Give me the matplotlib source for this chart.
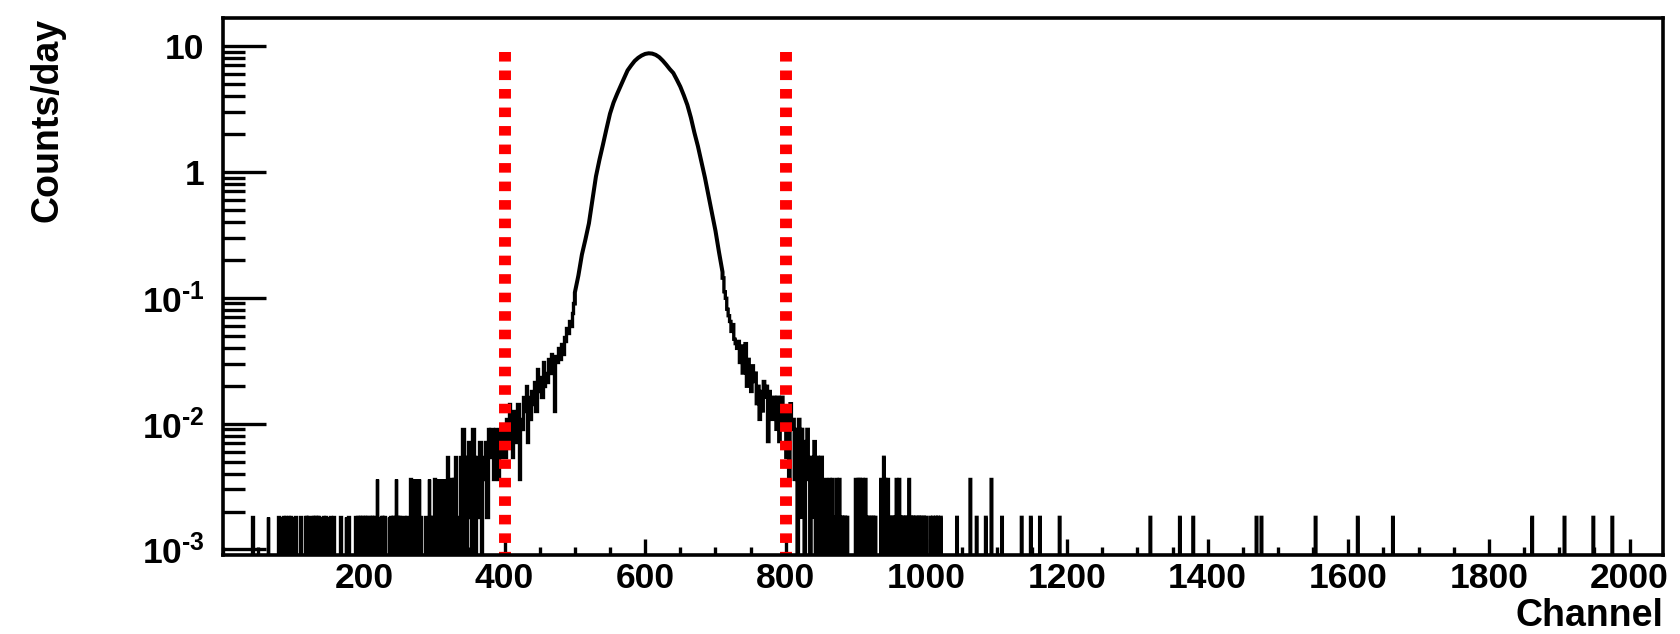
import numpy as np
import matplotlib
matplotlib.use("Agg")
import matplotlib.pyplot as plt
from matplotlib.ticker import FixedLocator, FixedFormatter, MultipleLocator, LogLocator, NullFormatter

# ---------------- data ----------------
n_channels = 2048
count_unit = 0.0018          # counts/day of one recorded count

# sparse low-energy tail: channel -> number of counts
left_tail_ch = [41, 63,
                78, 80, 83, 85, 88, 90, 92, 95, 97, 100, 102,
                109,
                116, 118, 121, 123, 126, 128, 131, 133, 135,
                140, 142, 145, 147, 150, 152,
                156, 166, 174, 178,
                188, 190, 193, 195, 197, 200, 202, 205, 207, 210, 212, 215,
                218,
                221, 224, 226, 229,
                235, 237, 240, 242, 245, 247, 250, 252, 255, 257, 260, 262,
                266, 268, 270, 272, 275, 278, 280,
                287, 289, 292, 294, 297, 300, 302, 305, 307, 309, 312, 315,
                318, 320, 322, 325, 327, 330]
left_tail_n = [1, 1,
               1, 1, 1, 1, 1, 1, 1, 1, 1, 1, 1,
               1,
               1, 1, 1, 1, 1, 1, 1, 1, 1,
               1, 1, 1, 1, 1, 1,
               1, 1, 1, 1,
               1, 1, 1, 1, 1, 1, 1, 1, 1, 1, 1, 1,
               2,
               1, 1, 1, 1,
               1, 1, 1, 1, 2, 1, 1, 1, 1, 1, 1, 1,
               2, 2, 1, 2, 2, 2, 1,
               1, 1, 2, 1, 1, 2, 2, 2, 1, 2, 2, 2,
               3, 2, 2, 2, 2, 3]

# left shoulder, 2-channel bins starting at channel 332 (counts per bin)
left_shoulder_from = 332
left_shoulder_n = [1, 0, 3, 0,
                   5, 3, 0, 3, 4, 1, 0, 5, 3, 0,
                   3, 1, 4, 0, 3, 2, 4, 1, 5, 3,
                   5, 5, 2, 5, 4, 2, 5, 3, 5, 4,
                   3, 6, 4, 8, 5, 3, 7, 4, 6, 8,
                   2, 6, 5, 9, 7, 11, 4, 9, 6, 10,
                   8, 12, 7, 15, 10, 13, 9, 17, 11, 14,
                   12, 18, 14, 20, 16, 7, 19, 17, 22, 18,
                   24, 20, 27, 25, 32, 29, 36, 33, 42, 50]

# main peak (counts/day)
peak_ch = [500, 505, 510, 515, 520, 525, 530, 535, 540, 545, 550, 555, 560,
           565, 570, 575, 580, 585, 590, 595, 600, 605, 610, 615, 620, 625,
           630, 635, 640, 645, 650, 655, 660, 665, 670, 675, 680, 685, 690,
           695, 700, 705, 710]
peak_rate = [0.11, 0.15, 0.22, 0.29, 0.39, 0.60, 0.92, 1.25, 1.65, 2.2, 2.9,
             3.55, 4.15, 4.8, 5.55, 6.4, 7.0, 7.6, 8.05, 8.4, 8.65, 8.75, 8.7,
             8.5, 8.15, 7.65, 7.1, 6.55, 6.1, 5.4, 4.75, 4.05, 3.4, 2.7, 2.05,
             1.6, 1.2, 0.9, 0.65, 0.47, 0.34, 0.23, 0.16]

# right shoulder, 2-channel bins starting at channel 710 (counts per bin)
right_shoulder_from = 710
right_shoulder_n = [80, 62, 55, 45, 40,
                    36, 30, 34, 26, 24,
                    22, 25, 17, 23, 14,
                    19, 24, 11, 18, 15,
                    10, 16, 12, 14, 8,
                    11, 6, 10, 7, 12,
                    9, 11, 4, 10, 7,
                    6, 9, 8, 5, 9,
                    4, 8, 9, 5, 7,
                    3, 7, 2, 8, 5,
                    6, 2, 5, 0, 6,
                    1, 5, 3, 0, 4,
                    5, 2, 0, 3, 1,
                    4, 0, 3, 1, 0,
                    3, 1, 0, 2, 0]

# sparse high-energy tail: channel -> number of counts
right_tail_from = 860
right_tail_ch = [862, 864, 866, 868, 870, 872, 874, 876, 879, 881, 884, 887,
                 899, 901, 903, 905, 907, 909, 911, 913, 915, 918, 921, 924, 927,
                 935, 937, 939, 941, 943, 945, 948, 950, 953, 955,
                 957, 959, 961, 963, 966, 968, 971, 973, 975, 977,
                 980, 982, 985, 988, 990, 993, 996, 999,
                 1005, 1009, 1013, 1016, 1020,
                 1043, 1062, 1071, 1084, 1092, 1107, 1135, 1148, 1161, 1189,
                 1318, 1360, 1379, 1469, 1476, 1553, 1613, 1663, 1861, 1907, 1948, 1975]
right_tail_n = [2, 1, 2, 1, 1, 2, 1, 2, 1, 1, 1, 1,
                2, 1, 2, 2, 1, 2, 1, 2, 1, 1, 1, 1, 1,
                2, 1, 3, 2, 1, 2, 1, 1, 1, 1,
                2, 1, 2, 1, 1, 1, 1, 1, 2, 1,
                1, 1, 1, 1, 1, 1, 1, 1,
                1, 1, 1, 1, 1,
                1, 2, 1, 1, 2, 1, 1, 1, 1, 1,
                1, 1, 1, 1, 1, 1, 1, 1, 1, 1, 1, 1]

window_ch = [400, 800]       # red dashed window limits
window_top = 9.0

x_major = [200, 400, 600, 800, 1000, 1200, 1400, 1600, 1800, 2000]
x_labels = ['200', '400', '600', '800', '1000', '1200', '1400', '1600', '1800', '2000']
y_major = [1e-3, 1e-2, 1e-1, 1, 10]
y_labels = [r'$10^{\text{-3}}$', r'$10^{\text{-2}}$', r'$10^{\text{-1}}$', '1', '10']

# ---------------- style ----------------
plt.rcParams['font.family'] = ['Liberation Sans', 'DejaVu Sans']
plt.rcParams['font.weight'] = 'bold'
plt.rcParams['mathtext.fontset'] = 'custom'
plt.rcParams['mathtext.rm'] = 'Liberation Sans:bold'
plt.rcParams['mathtext.bf'] = 'Liberation Sans:bold'
plt.rcParams['mathtext.it'] = 'Liberation Sans:bold'
plt.rcParams['mathtext.default'] = 'rm'

W, H = 1680, 634
fig = plt.figure(figsize=(W / 100, H / 100), dpi=100)
ax = fig.add_axes([223.3 / W, (H - 555) / H, 1440 / W, 537.5 / H])
ax.set_yscale('log')
ax.set_xlim(0, n_channels)
y_lo, y_hi = 0.000904, 16.84
ax.set_ylim(y_lo, y_hi)

floor = 1e-7

def safe(v):
    v = np.asarray(v, dtype=float)
    return np.where(v > 0, v, floor)

counts = np.zeros(n_channels)
counts[left_tail_ch] = left_tail_n
counts[right_tail_ch] = right_tail_n
rate = counts * count_unit

# segment A : left tail (1-ch bins) + left shoulder (2-ch bins)
ls_rate = np.array(left_shoulder_n) * count_unit
ls_end = left_shoulder_from + 2 * len(left_shoulder_n)
edges_a = np.concatenate([np.arange(0, left_shoulder_from),
                          np.arange(left_shoulder_from, ls_end + 1, 2)])
vals_a = safe(np.concatenate([rate[:left_shoulder_from], ls_rate]))

# segment C : right shoulder (2-ch bins) + right tail (1-ch bins)
rs_rate = np.array(right_shoulder_n) * count_unit
edges_c = np.concatenate([np.arange(right_shoulder_from, right_tail_from, 2),
                          np.arange(right_tail_from, n_channels + 1)])
vals_c = safe(np.concatenate([rs_rate, rate[right_tail_from:]]))

lw_hist = 2.4
ax.stairs(vals_a, edges_a, baseline=None, color='black', linewidth=lw_hist, zorder=2)
ax.stairs(vals_c, edges_c, baseline=None, color='black', linewidth=lw_hist, zorder=2)

# peak as a continuous line, joined to both shoulders
px = np.concatenate([[edges_a[-1]], peak_ch, [edges_c[0]]])
py = np.concatenate([[vals_a[-1]], peak_rate, [vals_c[0]]])
ax.plot(px, py, color='black', linewidth=2.9, solid_joinstyle='miter', zorder=2)

# red dashed window lines (drawn from top down)
for c in window_ch:
    ax.plot([c, c], [window_top, y_lo], color='#ff0000', linewidth=8.6,
            linestyle=(0, (0.8, 0.75)), dash_capstyle='butt', zorder=3)

# ---------------- axes / ticks ----------------
for s in ax.spines.values():
    s.set_linewidth(2.6)
    s.set_zorder(4)

ax.xaxis.set_major_locator(FixedLocator(x_major))
ax.xaxis.set_major_formatter(FixedFormatter(x_labels))
ax.xaxis.set_minor_locator(MultipleLocator(50))
ax.xaxis.set_minor_formatter(NullFormatter())
ax.yaxis.set_major_locator(FixedLocator(y_major))
ax.yaxis.set_major_formatter(FixedFormatter(y_labels))
ax.yaxis.set_minor_locator(LogLocator(base=10, subs=np.arange(2, 10)))
ax.yaxis.set_minor_formatter(NullFormatter())

ax.tick_params(which='both', direction='in', top=False, right=False, width=2.4,
               labelsize=25.5)
ax.tick_params(axis='x', which='major', length=11.5, pad=5)
ax.tick_params(axis='x', which='minor', length=5.8)
ax.tick_params(axis='y', which='major', length=31, pad=13.5)
ax.tick_params(axis='y', which='minor', length=15.8)

ax.set_ylabel('Counts/day', fontsize=27, fontweight='bold')
ax.yaxis.set_label_coords((47.5 - 223.3) / 1440, 1.0)
ax.yaxis.label.set_ha('right')
ax.yaxis.label.set_va('center')

ax.set_xlabel('Channel', fontsize=27, fontweight='bold')
ax.xaxis.set_label_coords(1.0, (555 - 626) / 537.5)
ax.xaxis.label.set_ha('right')
ax.xaxis.label.set_va('baseline')

fig.savefig('out.png', dpi=100)
